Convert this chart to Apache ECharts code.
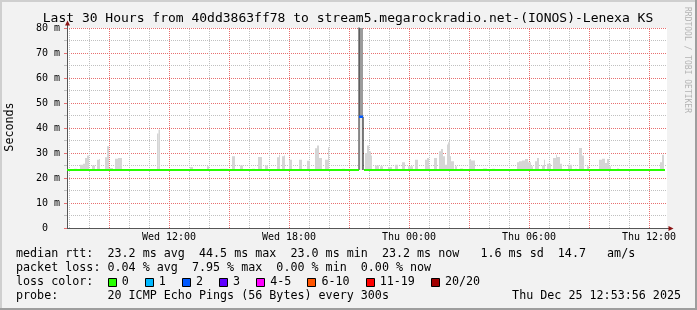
<!DOCTYPE html>
<html><head><meta charset="utf-8">
<script src="https://cdn.jsdelivr.net/npm/echarts@6/dist/echarts.min.js"></script>
<style>html,body{margin:0;padding:0;background:#f2f2f2}#c{width:697px;height:310px}</style>
</head><body><div id="c"></div>
<script>
// ---------- data ----------
const titleText = 'Last 30 Hours from 40dd3863ff78 to stream5.megarockradio.net-(IONOS)-Lenexa KS';
const timeStart = 6.9;   // hours since Wed 00:00
const timeEnd = 36.9;
const xLabelHours = [12, 18, 24, 30, 36];
const xLabelText = ['Wed 12:00', 'Wed 18:00', 'Thu 00:00', 'Thu 06:00', 'Thu 12:00'];
const yMax = 80;
const medianRtt = 23.2;
const medianSegments = [[6.9, 21.5], [21.75, 36.8]];
const smokeBase = 23.0;
// [start hour, end hour, max rtt ms]
const smoke = [
 [7.25,7.4,23.7],
 [7.55,7.7,25.3],[7.7,7.8,25.7],[7.8,7.9,28],[7.9,8.0,29],
 [8.15,8.3,25],
 [8.4,8.5,27.3],[8.5,8.55,27.6],
 [8.8,8.9,28.3],[8.9,9.0,32.7],[9.0,9.2,24],
 [9.3,9.45,27.7],[9.45,9.65,28],
 [11.4,11.475,37.8],[11.475,11.55,39.4],
 [12.05,12.2,23.6],
 [13.05,13.2,24.4],
 [13.9,14.0,24.7],
 [14.55,14.95,23.7],
 [15.15,15.3,28.7],
 [15.55,15.7,25],
 [16.15,16.3,23.7],
 [16.45,16.65,28.4],
 [16.8,16.95,25],
 [17.4,17.5,28.3],[17.5,17.55,29.3],
 [17.65,17.75,28.7],[17.75,17.8,29],
 [18.0,18.15,27.3],
 [18.5,18.65,27.3],
 [18.9,19.05,26.9],
 [19.3,19.4,31.9],[19.4,19.5,33],[19.5,19.65,28],
 [19.8,19.95,27.3],[19.95,20.0,32.3],
 [20.65,20.8,23.7],
 [21.8,21.9,30],[21.9,22.0,33],[22.0,22.1,30.7],[22.1,22.15,29],
 [22.3,22.5,25],
 [22.55,22.7,24.7],
 [22.95,23.15,24.4],
 [23.3,23.45,25.3],
 [23.65,23.8,26.3],
 [23.95,24.2,24.7],
 [24.3,24.45,27.3],
 [24.8,24.9,27.3],[24.9,25.0,28],[25.0,25.05,24.7],
 [25.25,25.4,28],
 [25.5,25.6,30.7],[25.6,25.7,31.6],[25.7,25.8,28.7],[25.8,25.9,25.3],[25.9,25.95,33.4],[25.95,26.05,34.3],[26.05,26.1,28.7],[26.1,26.25,26.7],
 [26.3,26.4,24.7],
 [26.55,26.7,23.8],
 [27.0,27.1,27.6],[27.1,27.3,27],
 [27.7,27.9,23.8],
 [28.15,28.3,23.7],
 [29.4,29.5,26.3],[29.5,29.65,26.7],[29.65,29.8,27],[29.8,29.95,27.6],[29.95,30.1,26.3],[30.1,30.2,24.7],
 [30.3,30.4,26.7],[30.4,30.5,28],
 [30.65,30.75,25],[30.75,30.8,27.3],
 [30.9,31.1,25.7],
 [31.2,31.35,28],[31.35,31.4,29.3],[31.4,31.55,28.4],[31.55,31.65,25.7],
 [31.95,32.15,25.3],
 [32.3,32.4,23.7],
 [32.5,32.65,32],[32.65,32.75,29],
 [32.9,33.0,24.7],
 [33.5,33.65,27.3],[33.65,33.8,27.7],[33.8,33.9,26],[33.9,34.0,27.6],[34.0,34.1,24.7],
 [34.4,34.5,23.8],
 [36.05,36.2,23.6],
 [36.55,36.65,26.3],[36.65,36.75,29.3]
];
// outage spike: [start, end, low, high]
const spikeSmokeLow = [[21.5, 21.7, 23.2, 44.5]];
const spikeSmokeHigh = [[21.5, 21.7, 44.5, 100]];
const spikeEdgeLeft = [[21.5, 23.2], [21.5, 100]];
const spikeEdgeRight = [[21.7, 23.2], [21.7, 44.5]];
const spikeMedian = [[21.5, 44.5], [21.7, 44.5]];
const lossLabels = ['0', '1', '2', '3', '4-5', '6-10', '11-19', '20/20'];
const lossColors = ['#26ff00', '#00b8ff', '#0059ff', '#5e00ff', '#ff00ff', '#ff5500', '#ff0000', '#a10000'];
const legendLine1 = 'median rtt:  23.2 ms avg  44.5 ms max  23.0 ms min  23.2 ms now   1.6 ms sd  14.7   am/s';
const legendLine2 = 'packet loss: 0.04 % avg  7.95 % max  0.00 % min  0.00 % now';
const legendLine3 = 'loss color:';
const legendLine4 = 'probe:       20 ICMP Echo Pings (56 Bytes) every 300s';
const stampText = 'Thu Dec 25 12:53:56 2025';
const yAxisName = 'Seconds';
const vendorText = 'RRDTOOL / TOBI OETIKER';

// ---------- layout ----------
const MONO = '"DejaVu Sans Mono", monospace';
const LF = 11.7, CW = LF * 0.602;
const RED = '#e87070', GREY = '#c0c0c0';
const hours = [];
for (let h = Math.ceil(timeStart); h <= Math.floor(timeEnd); h++) hours.push(h);
const majorHours = hours.filter(h => h % 3 === 0);
const minorHours = hours.filter(h => h % 3 !== 0);

function txt(text, x, y, opts) {
  opts = opts || {};
  return {
    type: 'text', x: x, y: y, rotation: opts.rotation || 0, z: 100,
    style: {
      text: text, font: (opts.size || LF) + 'px ' + MONO, fill: opts.color || '#000',
      align: opts.align || 'left', textAlign: opts.align || 'left',
      verticalAlign: 'middle', textVerticalAlign: 'middle'
    }
  };
}

const graphics = [
  { type: 'line', shape: { x1: 0, y1: 1, x2: 697, y2: 1 }, style: { stroke: '#cfcfcf', lineWidth: 2 } },
  { type: 'line', shape: { x1: 1, y1: 0, x2: 1, y2: 310 }, style: { stroke: '#cfcfcf', lineWidth: 2 } },
  { type: 'line', shape: { x1: 0, y1: 309, x2: 697, y2: 309 }, style: { stroke: '#9e9e9e', lineWidth: 2 } },
  { type: 'line', shape: { x1: 696, y1: 0, x2: 696, y2: 310 }, style: { stroke: '#9e9e9e', lineWidth: 2 } },
  { type: 'line', shape: { x1: 67.5, y1: 28, x2: 67.5, y2: 24 }, style: { stroke: '#555', lineWidth: 1 } },
  { type: 'polygon', shape: { points: [[65, 25.5], [70, 25.5], [67.5, 20.5]] }, style: { fill: '#8b1414' } },
  { type: 'line', shape: { x1: 667, y1: 228.5, x2: 669, y2: 228.5 }, style: { stroke: '#555', lineWidth: 1 } },
  { type: 'polygon', shape: { points: [[668.5, 226], [668.5, 231], [673.5, 228.5]] }, style: { fill: '#8b1414' } },
  txt(titleText, 348, 19, { size: 13, align: 'center' }),
  txt(yAxisName, 10, 127, { rotation: Math.PI / 2, align: 'center' }),
  txt(vendorText, 687, 60, { rotation: -Math.PI / 2, align: 'center', size: 8, color: '#b4b4b4' }),
  txt(legendLine1, 16, 254),
  txt(legendLine2, 16, 268),
  txt(legendLine3, 16, 282),
  txt(legendLine4, 16, 296),
  txt(stampText, 681, 296, { align: 'right' })
];
let bx = 16 + 13 * CW;
lossLabels.forEach((lab, i) => {
  graphics.push({ type: 'rect', z: 100, shape: { x: Math.round(bx) + 0.5, y: 278.5, width: 8, height: 8 },
    style: { fill: lossColors[i], stroke: '#000', lineWidth: 1 } });
  graphics.push(txt(lab, bx + 2 * CW, 282));
  bx = bx + 2 * CW + lab.length * CW + 16;
});

function rectItem(fill) {
  return function (params, api) {
    const v3 = api.value(3);
    const has4 = v3 !== undefined && v3 !== null && !isNaN(v3);
    const lo = has4 ? api.value(2) : smokeBase;
    const hi = has4 ? v3 : api.value(2);
    const p0 = api.coord([api.value(0), hi]);
    const p1 = api.coord([api.value(1), lo]);
    return { type: 'rect', shape: { x: p0[0], y: p0[1], width: p1[0] - p0[0], height: p1[1] - p0[1] },
      style: { fill: fill } };
  };
}

function lineSeries(data, color, width, z) {
  return { type: 'line', data: data, symbol: 'none', clip: true, z: z, silent: true,
    lineStyle: { color: color, width: width } };
}

const series = [
  { type: 'custom', data: smoke, encode: { x: [0, 1], y: 2 }, clip: true, z: 2,
    renderItem: rectItem('#d5d5d5'), silent: true },
  { type: 'custom', data: spikeSmokeLow, encode: { x: [0, 1], y: [2, 3] }, clip: true, z: 2,
    renderItem: rectItem('#ebebeb'), silent: true },
  { type: 'custom', data: spikeSmokeHigh, encode: { x: [0, 1], y: [2, 3] }, clip: true, z: 2,
    renderItem: rectItem('#9c9c9c'), silent: true },
  lineSeries(spikeEdgeLeft, '#222', 1, 3),
  lineSeries(spikeEdgeRight, '#000', 1, 3),
  lineSeries(spikeMedian, lossColors[2], 2.5, 4)
];
medianSegments.forEach(seg => {
  series.push(lineSeries([[seg[0], medianRtt], [seg[1], medianRtt]], lossColors[0], 2.2, 5));
});

const chart = echarts.init(document.getElementById('c'), null, { renderer: 'canvas' });
chart.setOption({
  animation: false,
  backgroundColor: '#f2f2f2',
  grid: { left: 67, right: 30, top: 28, bottom: 82, show: true, backgroundColor: '#fff', borderWidth: 0 },
  xAxis: [
    { type: 'value', min: timeStart, max: timeEnd, position: 'bottom',
      axisLine: { show: true, onZero: false, lineStyle: { color: '#555', width: 1 } },
      axisTick: { show: true, inside: true, length: 200, customValues: majorHours,
        lineStyle: { color: RED, width: 1, type: [1, 1] } },
      axisLabel: { show: true, customValues: xLabelHours, margin: 4,
        fontFamily: MONO, fontSize: 10, color: '#000',
        formatter: v => xLabelText[xLabelHours.indexOf(Math.round(v))] || '' },
      splitLine: { show: false } },
    { type: 'value', min: timeStart, max: timeEnd, position: 'bottom',
      axisLine: { show: false }, axisLabel: { show: false }, splitLine: { show: false },
      axisTick: { show: true, inside: true, length: 200, customValues: minorHours,
        lineStyle: { color: GREY, width: 1, type: [1, 1] } } }
  ],
  yAxis: {
    type: 'value', min: 0, max: yMax, interval: 10,
    axisLine: { show: true, onZero: false, lineStyle: { color: '#555', width: 1 } },
    axisTick: { show: true, length: 3, lineStyle: { color: RED } },
    minorTick: { show: true, splitNumber: 2, length: 3, lineStyle: { color: GREY } },
    axisLabel: { margin: 7, fontFamily: MONO, fontSize: 10, color: '#000',
      formatter: v => v === 0 ? '0  ' : v + ' m' },
    splitLine: { show: true, lineStyle: { color: RED, width: 1, type: [1, 1] } },
    minorSplitLine: { show: true, lineStyle: { color: GREY, width: 1, type: [1, 1] } }
  },
  series: series,
  graphic: graphics
});
</script>
</body></html>
